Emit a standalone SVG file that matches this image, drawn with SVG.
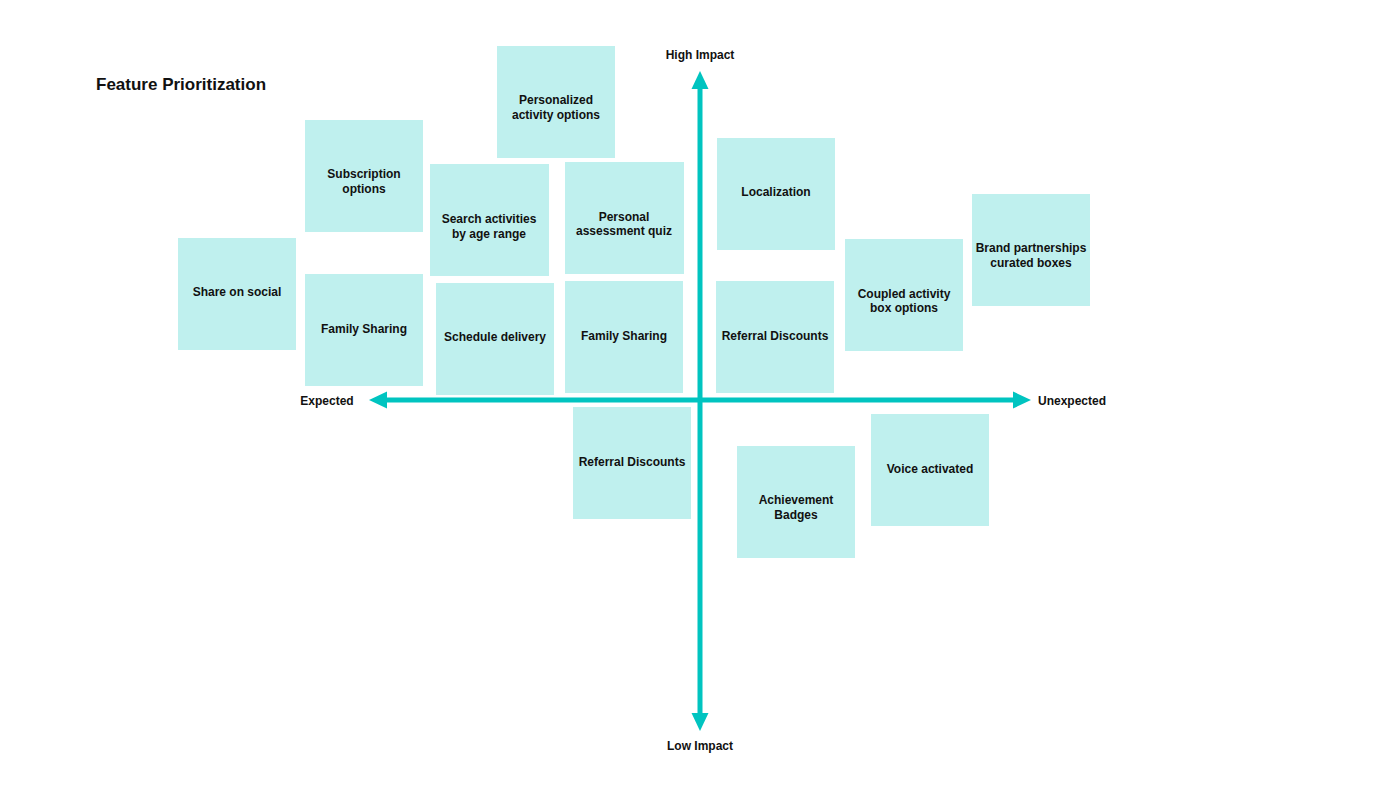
<svg xmlns="http://www.w3.org/2000/svg" width="1400" height="800" viewBox="0 0 1400 800">
<style>
.n{fill:#bff0ee}
text{font-family:"Liberation Sans",Arial,sans-serif;font-weight:bold;font-size:12px;fill:#111;text-anchor:middle}
.ax{stroke:#00c4c0;stroke-width:5;fill:none}
</style>
<defs><marker id="a" markerWidth="4" markerHeight="4" refX="2.2" refY="2" orient="auto" markerUnits="strokeWidth"><path d="M0,0.3L3.6,2L0,3.7z" fill="#00c4c0"/></marker></defs>
<rect width="1400" height="800" fill="#fff"/>
<text x="96" y="90" style="font-size:17px;text-anchor:start">Feature Prioritization</text>
<g id="connectors">
<line class="ax" x1="700" y1="400" x2="700" y2="78" marker-end="url(#a)"/>
<line class="ax" x1="700" y1="400" x2="700" y2="724" marker-end="url(#a)"/>
<line class="ax" x1="700" y1="400" x2="376" y2="400" marker-end="url(#a)"/>
<line class="ax" x1="700" y1="400" x2="1024" y2="400" marker-end="url(#a)"/>
</g>
<g id="labels">
<text x="700" y="59">High Impact</text>
<text x="700" y="750">Low Impact</text>
<text x="327" y="405">Expected</text>
<text x="1072" y="405">Unexpected</text>
</g>
<g id="n1"><rect class="n" x="497" y="46" width="118" height="112"/><text x="556" y="104">Personalized</text><text x="556" y="119">activity options</text></g>
<g id="n2"><rect class="n" x="305" y="120" width="118" height="112"/><text x="364" y="178">Subscription</text><text x="364" y="193">options</text></g>
<g id="n3"><rect class="n" x="430" y="164" width="119" height="112"/><text x="489" y="223">Search activities</text><text x="489" y="238">by age range</text></g>
<g id="n4"><rect class="n" x="565" y="162" width="119" height="112"/><text x="624" y="221">Personal</text><text x="624" y="235">assessment quiz</text></g>
<g id="n5"><rect class="n" x="717" y="138" width="118" height="112"/><text x="776" y="196">Localization</text></g>
<g id="n6"><rect class="n" x="972" y="194" width="118" height="112"/><text x="1031" y="252">Brand partnerships</text><text x="1031" y="267">curated boxes</text></g>
<g id="n7"><rect class="n" x="845" y="239" width="118" height="112"/><text x="904" y="298">Coupled activity</text><text x="904" y="312">box options</text></g>
<g id="n8"><rect class="n" x="178" y="238" width="118" height="112"/><text x="237" y="296">Share on social</text></g>
<g id="n9"><rect class="n" x="305" y="274" width="118" height="112"/><text x="364" y="333">Family Sharing</text></g>
<g id="n10"><rect class="n" x="436" y="283" width="118" height="112"/><text x="495" y="341">Schedule delivery</text></g>
<g id="n11"><rect class="n" x="565" y="281" width="118" height="112"/><text x="624" y="340">Family Sharing</text></g>
<g id="n12"><rect class="n" x="716" y="281" width="118" height="112"/><text x="775" y="340">Referral Discounts</text></g>
<g id="n13"><rect class="n" x="573" y="407" width="118" height="112"/><text x="632" y="466">Referral Discounts</text></g>
<g id="n14"><rect class="n" x="871" y="414" width="118" height="112"/><text x="930" y="473">Voice activated</text></g>
<g id="n15"><rect class="n" x="737" y="446" width="118" height="112"/><text x="796" y="504">Achievement</text><text x="796" y="519">Badges</text></g>
</svg>
